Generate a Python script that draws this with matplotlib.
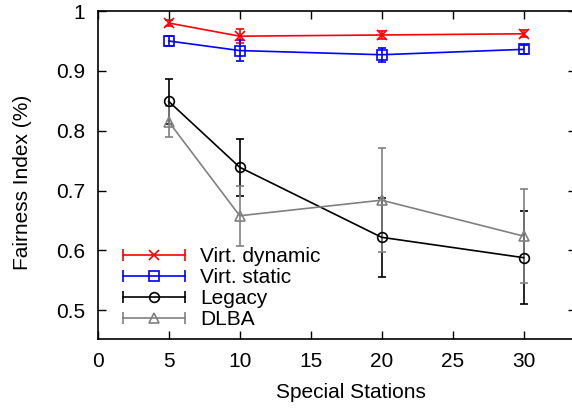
import matplotlib.pyplot as plt
from matplotlib.legend_handler import HandlerBase
from matplotlib.lines import Line2D

plt.rcParams['font.family'] = ['Liberation Sans', 'DejaVu Sans']
plt.rcParams['font.size'] = 15

stations = [5, 10, 20, 30]

virt_dyn = [0.980, 0.958, 0.960, 0.962]
virt_dyn_err = [0.005, 0.012, 0.006, 0.006]
virt_static = [0.950, 0.934, 0.927, 0.936]
virt_static_err = [0.009, 0.017, 0.012, 0.007]
legacy = [0.849, 0.739, 0.622, 0.588]
legacy_err = [0.037, 0.048, 0.066, 0.078]
dlba = [0.815, 0.658, 0.684, 0.624]
dlba_err = [0.026, 0.050, 0.087, 0.078]

labels = ['Virt. dynamic', 'Virt. static', 'Legacy', 'DLBA']


class CapHandler(HandlerBase):
    # gnuplot-style key: line with caps at both ends, marker in the middle
    def create_artists(self, legend, orig, xd, yd, width, height, fontsize, trans):
        y = yd + height / 2
        x0, x1 = xd, xd + width
        c = orig.get_color()
        line = Line2D([x0, x1], [y, y], color=c, lw=1.2, transform=trans)
        caps = Line2D([x0, x1], [y, y], ls='none', marker='|', ms=8, mew=1.2,
                      color=c, transform=trans)
        mk = Line2D([(x0 + x1) / 2], [y], ls='none', marker=orig.get_marker(),
                    ms=orig.get_markersize(), mew=1.2, mfc='none', mec=c,
                    transform=trans)
        return [line, caps, mk]


fig = plt.figure(figsize=(5.72, 4.09), dpi=100)
# right border of the plot sits just past the image edge, as in the original
ax = fig.add_axes([0.171, 0.171, 0.836, 0.802])

series = [
    (virt_dyn, virt_dyn_err, 'red', 'x'),
    (virt_static, virt_static_err, 'blue', 's'),
    (legacy, legacy_err, 'black', 'o'),
    (dlba, dlba_err, 'gray', '^'),
]
handles = []
for (vals, errs, col, mk), lab in zip(series, labels):
    ax.errorbar(stations, vals, yerr=errs, color=col, lw=1.2, elinewidth=1.2,
                capsize=3, capthick=1.2, marker=mk, ms=7, mfc='none',
                mec=col, mew=1.2)
    handles.append(Line2D([], [], color=col, marker=mk, ms=7))

ax.set_xlim(0, 33.7)
ax.set_ylim(0.452, 1.0)
ax.set_xticks([0, 5, 10, 15, 20, 25, 30])
ax.set_yticks([0.5, 0.6, 0.7, 0.8, 0.9, 1])
ax.set_yticklabels(['0.5', '0.6', '0.7', '0.8', '0.9', '1'])
ax.tick_params(direction='in', top=True, right=True, length=6, width=1, pad=9)
for s in ax.spines.values():
    s.set_linewidth(1.2)

ax.set_xlabel('Special Stations')
ax.xaxis.set_label_coords(0.53, -0.135)
ax.set_ylabel('Fairness Index (%)')
ax.yaxis.set_label_coords(-0.137, 0.479)

ax.legend(handles, labels, handler_map={Line2D: CapHandler()},
          loc='lower left', bbox_to_anchor=(0.052, 0.03), frameon=False,
          handlelength=3.0, handletextpad=0.7, labelspacing=0.1,
          borderaxespad=0, borderpad=0, fontsize=15)

fig.savefig('out.png', dpi=100)
